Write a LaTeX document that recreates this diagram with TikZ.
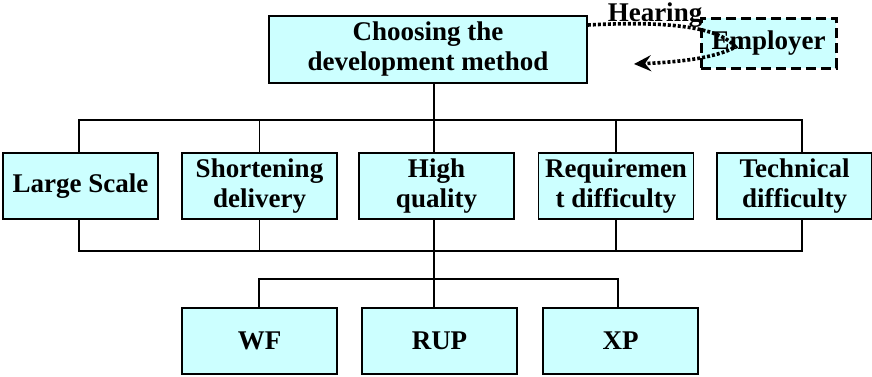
\documentclass[tikz,border=0pt]{standalone}
\usepackage{fontspec}
\setmainfont{Liberation Serif}
\usetikzlibrary{arrows.meta}
\definecolor{boxfill}{HTML}{CCFFFF}
\begin{document}
\begin{tikzpicture}[x=1pt,y=-1pt,
  lbl/.style={font=\fontsize{27}{30}\selectfont\bfseries},
  box/.style={lbl, draw=black, fill=boxfill, line width=1.7pt, minimum width=155pt,
    minimum height=66pt, inner sep=0pt, align=center},
  wire/.style={line width=1.6pt},
  hook/.style={line width=3.6pt, dash pattern=on 3pt off 2pt}
]
\useasboundingbox (0,0) rectangle (872,376);
% nodes
\node[box, minimum width=318pt, minimum height=67pt] (M) at (428,49.5) {Choosing the\\development method};
\node[box, dash pattern=on 10pt off 5pt, line width=3pt, minimum width=135pt, minimum height=50pt] (E) at (768.5,43) {Employer};
\node[box] (L) at (80.5,186) {Large Scale};
\node[box] (S) at (259.5,186) {Shortening\\delivery};
\node[box] (H) at (436.5,186) {High\\quality};
\node[box] (R) at (616,186) {Requiremen\\t difficulty};
\node[box] (T) at (794.5,186) {Technical\\difficulty};
\node[box] (W) at (259.5,341) {WF};
\node[box] (U) at (439.5,341) {RUP};
\node[box] (X) at (620.5,341) {XP};
\node[lbl, anchor=base, inner sep=1pt] (hear) at (655,21) {Hearing};
% bus levels
\coordinate (busA) at (0,120);
\coordinate (busB) at (0,251);
\coordinate (busC) at (0,279);
% top bus
\draw[wire] ([xshift=6pt]M.south) -- ([xshift=6pt]M.south |- busA);
\draw[wire] ([xshift=-1.5pt]L.north) |- ([xshift=7.5pt]T.north |- busA) -- ([xshift=7.5pt]T.north);
\draw[wire] (S.north) -- (S.north |- busA);
\draw[wire] ([xshift=-2.5pt]H.north) -- ([xshift=-2.5pt]H.north |- busA);
\draw[wire] (R.north) -- (R.north |- busA);
% bottom bus
\draw[wire] ([xshift=-1.5pt]L.south) |- ([xshift=7.5pt]T.south |- busB) -- ([xshift=7.5pt]T.south);
\draw[wire] (S.south) -- (S.south |- busB);
\draw[wire] ([xshift=-2.5pt]H.south) -- ([xshift=-2.5pt]H.south |- busC);
\draw[wire] (R.south) -- (R.south |- busB);
% lower bus
\draw[wire] ([xshift=-0.5pt]W.north) |- ([xshift=-2.5pt]X.north |- busC) -- ([xshift=-2.5pt]X.north);
\draw[wire] ([xshift=-5.5pt]U.north) -- ([xshift=-5.5pt]U.north |- busC);
% hearing hook
\coordinate (tip) at (634,64);
\draw[hook, -{Stealth[length=17pt,width=16pt,inset=6pt]}] ([yshift=24.5pt]M.east)
  .. controls (680,20) and (722,30) .. ([xshift=-33pt,yshift=-4pt]E.center)
  .. controls (715,58) and (680,62) .. (tip);
\end{tikzpicture}
\end{document}
